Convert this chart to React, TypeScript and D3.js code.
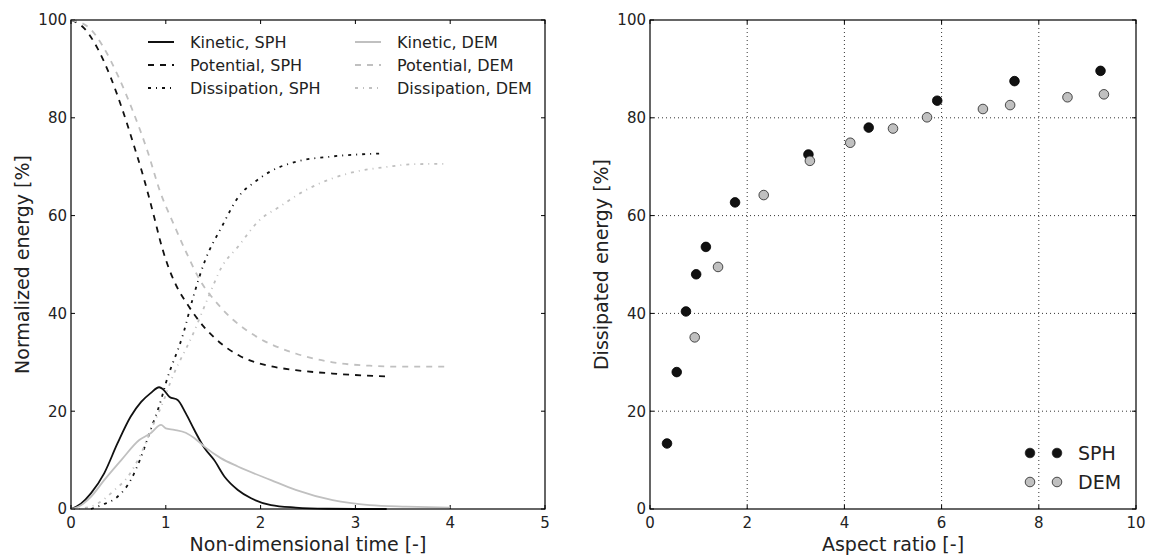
import React from "react";
import * as d3 from "d3";

// ---- left panel: energy curves (time [-], energy [%]) ----
const kinSphT = [0, 0.105, 0.21, 0.35, 0.49, 0.63, 0.74, 0.84, 0.93, 0.97, 1.04, 1.125, 1.21, 1.3, 1.41, 1.51, 1.62, 1.76, 1.9, 2.11, 2.37, 2.7, 3.0, 3.33];
const kinSphV = [0, 1.1, 3.2, 7.3, 13.4, 18.9, 21.9, 23.7, 24.9, 24.5, 22.9, 22.3, 19.6, 16.2, 12.4, 10.0, 6.6, 3.9, 2.2, 0.8, 0.3, 0.05, 0, 0];

const potSphT = [0, 0.14, 0.28, 0.42, 0.54, 0.65, 0.77, 0.88, 0.94, 1.0, 1.115, 1.22, 1.4, 1.52, 1.79, 2.06, 2.37, 2.76, 3.33];
const potSphV = [100, 98.3, 94.2, 88.2, 81.8, 75.2, 67.5, 59.5, 54.9, 51, 45.5, 42.1, 37.3, 34.9, 31.2, 29.4, 28.4, 27.7, 27.1];

const disSphT = [0.21, 0.32, 0.49, 0.63, 0.74, 0.84, 0.95, 1.0, 1.185, 1.29, 1.41, 1.59, 1.78, 1.94, 2.1, 2.37, 2.76, 3.27];
const disSphV = [0, 0.8, 2.5, 5.9, 10.7, 16.2, 22.3, 25.7, 35.9, 43.4, 50.6, 57.7, 64.2, 66.9, 69.0, 71, 72.1, 72.7];

const kinDemT = [0, 0.07, 0.21, 0.35, 0.53, 0.72, 0.84, 0.95, 1.0, 1.09, 1.21, 1.3, 1.41, 1.58, 1.76, 2.11, 2.37, 2.76, 3.15, 3.54, 4.0];
const kinDemV = [0, 0.4, 2.5, 5.9, 10.0, 14.1, 15.5, 17.2, 16.5, 16.2, 15.6, 14.5, 12.7, 10.4, 8.7, 5.9, 3.9, 1.8, 0.8, 0.5, 0.3];

const potDemT = [0, 0.18, 0.34, 0.5, 0.65, 0.81, 0.94, 1.08, 1.22, 1.36, 1.54, 1.71, 1.96, 2.37, 2.76, 3.15, 3.5, 4.0];
const potDemV = [100, 98.6, 94.5, 88.4, 81.5, 73, 64.9, 58.4, 52.3, 46.8, 42.1, 38.7, 35.2, 31.8, 30.0, 29.3, 29.1, 29.1];

const disDemT = [0, 0.1, 0.28, 0.46, 0.6, 0.74, 0.86, 0.98, 1.05, 1.29, 1.45, 1.59, 1.76, 1.99, 2.2, 2.42, 2.59, 2.92, 3.35, 3.6, 3.97];
const disDemV = [0, 0.1, 1.1, 3.9, 6.6, 11.4, 16.9, 22.3, 26.0, 35.9, 43.4, 49.5, 53.6, 59.1, 61.8, 64.6, 66.3, 68.6, 70, 70.5, 70.6];

// ---- right panel: dissipated energy vs aspect ratio ----
const sphX = [0.35, 0.55, 0.74, 0.95, 1.15, 1.75, 3.26, 4.5, 5.91, 7.5, 9.27];
const sphY = [13.4, 28.0, 40.4, 48.0, 53.6, 62.7, 72.5, 78.0, 83.5, 87.5, 89.6];
const demX = [0.92, 1.4, 2.34, 3.29, 4.12, 5.0, 5.7, 6.85, 7.41, 8.59, 9.34];
const demY = [35.1, 49.5, 64.2, 71.2, 74.9, 77.8, 80.1, 81.8, 82.6, 84.2, 84.8];

const yTicks = [0, 20, 40, 60, 80, 100];

const BLACK = "#111111";
const GREY = "#c0c0c0";
const FONT = "DejaVu Sans, Bitstream Vera Sans, sans-serif";

const top = 20, bottom = 509;
const yScale = d3.scaleLinear().domain([0, 100]).range([bottom, top]);
const xLeft = d3.scaleLinear().domain([0, 5]).range([71, 545]);
const xRight = d3.scaleLinear().domain([0, 10]).range([650, 1136]);

const series = [
  { name: "Kinetic, SPH", t: kinSphT, v: kinSphV, color: BLACK, dash: null },
  { name: "Potential, SPH", t: potSphT, v: potSphV, color: BLACK, dash: "6,6" },
  { name: "Dissipation, SPH", t: disSphT, v: disSphV, color: BLACK, dash: "3,5,1,5" },
  { name: "Kinetic, DEM", t: kinDemT, v: kinDemV, color: GREY, dash: null },
  { name: "Potential, DEM", t: potDemT, v: potDemV, color: GREY, dash: "6,6" },
  { name: "Dissipation, DEM", t: disDemT, v: disDemV, color: GREY, dash: "3,5,1,5" },
];

function Frame({ x, grid, xLabel, yLabel }: any) {
  const [x0, x1] = x.range();
  const xt = x.ticks(5);
  return (
    <g>
      {grid && xt.filter((d: number) => d > 0 && d < x.domain()[1]).map((d: number) => (
        <line key={"gx" + d} x1={x(d)} x2={x(d)} y1={top} y2={bottom} stroke="#000" strokeWidth={0.8} strokeDasharray="1,3" />
      ))}
      {grid && yTicks.filter((d) => d > 0 && d < 100).map((d) => (
        <line key={"gy" + d} x1={x0} x2={x1} y1={yScale(d)} y2={yScale(d)} stroke="#000" strokeWidth={0.8} strokeDasharray="1,3" />
      ))}
      {xt.map((d: number) => (
        <g key={"xt" + d}>
          <line x1={x(d)} x2={x(d)} y1={bottom} y2={bottom - 4} stroke="#000" />
          <line x1={x(d)} x2={x(d)} y1={top} y2={top + 4} stroke="#000" />
          <text x={x(d)} y={bottom + 19} textAnchor="middle" fontSize={15} fill="#222">{d}</text>
        </g>
      ))}
      {yTicks.map((d) => (
        <g key={"yt" + d}>
          <line x1={x0} x2={x0 + 4} y1={yScale(d)} y2={yScale(d)} stroke="#000" />
          <line x1={x1} x2={x1 - 4} y1={yScale(d)} y2={yScale(d)} stroke="#000" />
          <text x={x0 - 4} y={yScale(d)} dy="0.36em" textAnchor="end" fontSize={15} fill="#222">{d}</text>
        </g>
      ))}
      <text x={(x0 + x1) / 2} y={551} textAnchor="middle" fontSize={19} fill="#222">{xLabel}</text>
      <text transform={`translate(${x0 - 42},${(top + bottom) / 2}) rotate(-90)`} textAnchor="middle" fontSize={19} fill="#222">{yLabel}</text>
    </g>
  );
}

export default function App() {
  const line = d3.line<[number, number]>()
    .x((d) => xLeft(d[0]))
    .y((d) => yScale(d[1]))
    .curve(d3.curveMonotoneX);

  const legendRows = [42, 65, 88];
  const legendCols = [148, 355];

  return (
    <svg width={1151} height={558} style={{ position: "absolute", left: 0, top: 0, background: "#fff" }} fontFamily={FONT}>
      {/* left panel */}
      <Frame x={xLeft} grid={false} xLabel="Non-dimensional time [-]" yLabel="Normalized energy [%]" />
      <g>
        {series.map((s) => (
          <path key={s.name} d={line(s.t.map((t, i) => [t, s.v[i]]) as [number, number][]) || ""}
            fill="none" stroke={s.color} strokeWidth={1.8} strokeDasharray={s.dash || undefined} />
        ))}
      </g>
      <g fontSize={16} fill="#222">
        {series.map((s, i) => {
          const col = legendCols[Math.floor(i / 3)];
          const row = legendRows[i % 3];
          return (
            <g key={"lg" + s.name}>
              <line x1={col} x2={col + 26} y1={row} y2={row} stroke={s.color} strokeWidth={2} strokeDasharray={s.dash || undefined} />
              <text x={col + 42} y={row} dy="0.36em">{s.name}</text>
            </g>
          );
        })}
      </g>
      <rect x={71} y={top} width={545 - 71} height={bottom - top} fill="none" stroke="#000" strokeWidth={1.2} />

      {/* right panel */}
      <Frame x={xRight} grid={true} xLabel="Aspect ratio [-]" yLabel="Dissipated energy [%]" />
      <g>
        {sphX.map((d, i) => (
          <circle key={"s" + i} cx={xRight(d)} cy={yScale(sphY[i])} r={4.8} fill={BLACK} stroke="#000" strokeWidth={0.8} />
        ))}
        {demX.map((d, i) => (
          <circle key={"d" + i} cx={xRight(d)} cy={yScale(demY[i])} r={4.8} fill={GREY} stroke="#222" strokeWidth={0.8} />
        ))}
      </g>
      <g fontSize={19} fill="#222">
        {[{ name: "SPH", fill: BLACK, y: 453 }, { name: "DEM", fill: GREY, y: 482 }].map((l) => (
          <g key={l.name}>
            <circle cx={1030} cy={l.y} r={4.8} fill={l.fill} stroke="#222" strokeWidth={0.8} />
            <circle cx={1057} cy={l.y} r={4.8} fill={l.fill} stroke="#222" strokeWidth={0.8} />
            <text x={1078} y={l.y} dy="0.36em">{l.name}</text>
          </g>
        ))}
      </g>
      <rect x={650} y={top} width={1136 - 650} height={bottom - top} fill="none" stroke="#000" strokeWidth={1.2} />
    </svg>
  );
}
